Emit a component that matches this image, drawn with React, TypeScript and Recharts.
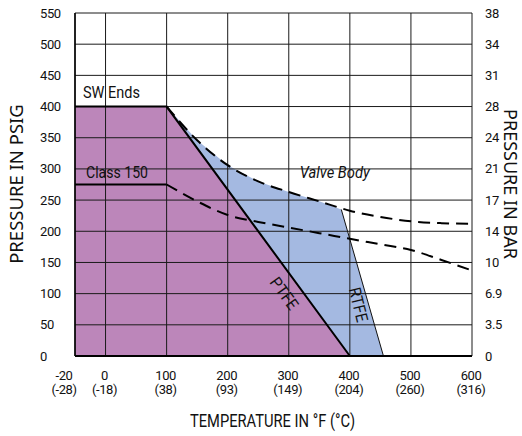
import React from "react";
import {
  ComposedChart,
  Area,
  Line,
  XAxis,
  YAxis,
  CartesianGrid,
  ReferenceDot,
} from "recharts";

// Temperature ticks (°F) and their Celsius labels
const tempTicksF = [-20, 0, 100, 200, 300, 400, 500, 600];
const tempTicksC = ["(-28)", "(-18)", "(38)", "(93)", "(149)", "(204)", "(260)", "(316)"];

// Pressure ticks (psig) and the matching bar labels on the right
const psiTicks = [0, 50, 100, 150, 200, 250, 300, 350, 400, 450, 500, 550];
const barLabels = ["0", "3.5", "6.9", "10", "14", "17", "21", "24", "28", "31", "34", "38"];

// PTFE seat rating (solid line + purple fill)
const ptfeTemp = [-20, 100, 400];
const ptfePsi = [400, 400, 0];

// RTFE seat rating (blue fill)
const rtfeTemp = [100, 150, 200, 250, 300, 350, 386, 455];
const rtfePsi = [400, 346, 306, 280, 263, 248, 235, 0];

// SW ends valve body rating (dashed)
const swTemp = [100, 150, 200, 250, 300, 350, 400, 450, 500, 550, 600];
const swPsi = [400, 346, 306, 280, 263, 248, 233, 223, 216, 213, 212];

// Class 150 valve body rating
const c150FlatTemp = [-20, 100];
const c150FlatPsi = [275, 275];
const c150Temp = [100, 150, 200, 250, 300, 350, 400, 450, 500, 550, 600];
const c150Psi = [275, 248, 226, 215, 206, 197, 188, 179, 170, 154, 137];

// the chart squeezes -20..0 °F into half a grid column
const xPos = (f: number) => (f < 0 ? f * 2.5 : f);

const toPoints = (t: number[], p: number[]) =>
  t.map((f, i) => ({ x: xPos(f), psi: p[i] }));

const ptfeData = toPoints(ptfeTemp, ptfePsi);
const rtfeData = toPoints(rtfeTemp, rtfePsi);
const rtfeEdge = rtfeData.slice(-2);
const swData = toPoints(swTemp, swPsi);
const c150Flat = toPoints(c150FlatTemp, c150FlatPsi);
const c150Data = toPoints(c150Temp, c150Psi);

const NARROW = "Roboto, 'Liberation Sans', sans-serif";
const TITLE = "'Noto Sans', 'Open Sans', sans-serif";

const PsiTick = (props: any) => (
  <text x={props.x - 33} y={props.y} dy={4.5} textAnchor="start" fontSize={13} letterSpacing={-0.4} fontFamily={NARROW} fill="#111">
    {props.payload.value}
  </text>
);

const BarTick = (props: any) => (
  <text x={props.x + 11} y={props.y} dy={4.5} textAnchor="start" fontSize={13} letterSpacing={-0.4} fontFamily={NARROW} fill="#111">
    {barLabels[psiTicks.indexOf(props.payload.value)]}
  </text>
);

const TempTick = (props: any) => {
  const i = props.index;
  // the -20 label sits a little left of the frame
  const x = props.x + (i === 0 ? -11 : -1);
  return (
    <text x={x} y={props.y} textAnchor="middle" fontSize={13} letterSpacing={-0.4} fontFamily={NARROW} fill="#111">
      <tspan x={x} dy={22}>{tempTicksF[i]}</tspan>
      <tspan x={x} dy={14}>{tempTicksC[i]}</tspan>
    </text>
  );
};

type NoteOpts = { anchor?: string; angle?: number; italic?: boolean; dx?: number; dy?: number; len?: number };

const note = (text: string, opts: NoteOpts = {}) => (p: any) => {
  const x = p.cx + (opts.dx || 0);
  const y = p.cy + (opts.dy || 0);
  return (
    <text
      x={x}
      y={y}
      textAnchor={opts.anchor || "start"}
      fontSize={16.5}
      fontFamily={NARROW}
      fontStyle={opts.italic ? "italic" : "normal"}
      fill="#111"
      textLength={opts.len}
      lengthAdjust="spacingAndGlyphs"
      transform={opts.angle ? `rotate(${opts.angle} ${x} ${y})` : undefined}
    >
      {text}
    </text>
  );
};

export default function App() {
  return (
    <div style={{ position: "absolute", left: 0, top: 0 }}>
      <ComposedChart width={522} height={436} margin={{ top: 13, right: 0, bottom: 0, left: 0 }}>
        <Area
          data={rtfeData}
          dataKey="psi"
          yAxisId="psi"
          type="linear"
          fill="#A4B9E1"
          fillOpacity={1}
          stroke="none"
          isAnimationActive={false}
        />
        <Area
          data={ptfeData}
          dataKey="psi"
          yAxisId="psi"
          type="linear"
          fill="#BC86BA"
          fillOpacity={1}
          stroke="none"
          isAnimationActive={false}
        />
        <CartesianGrid yAxisId="psi" stroke="#1a1a1a" strokeWidth={1} zIndex={150} />
        <Line data={rtfeEdge} dataKey="psi" yAxisId="psi" type="linear" stroke="#111" strokeWidth={1} dot={false} isAnimationActive={false} />
        <Line data={ptfeData} dataKey="psi" yAxisId="psi" type="linear" stroke="#000" strokeWidth={2} dot={false} isAnimationActive={false} />
        <Line data={swData} dataKey="psi" yAxisId="psi" type="monotone" stroke="#000" strokeWidth={2} strokeDasharray="12 7" dot={false} isAnimationActive={false} />
        <Line data={c150Flat} dataKey="psi" yAxisId="psi" type="linear" stroke="#000" strokeWidth={2} dot={false} isAnimationActive={false} />
        <Line data={c150Data} dataKey="psi" yAxisId="psi" type="monotone" stroke="#000" strokeWidth={2} strokeDasharray="12 7" dot={false} isAnimationActive={false} />
        {/* same rating read in bar: keeps the right-hand axis alive */}
        <Line data={swData} dataKey="psi" yAxisId="bar" stroke="none" dot={false} legendType="none" isAnimationActive={false} />

        <XAxis
          dataKey="x"
          type="number"
          domain={[xPos(-20), 600]}
          ticks={tempTicksF.map(xPos)}
          interval={0}
          height={80}
          tickSize={0}
          tickLine={false}
          axisLine={{ stroke: "#000", strokeWidth: 2 }}
          tick={<TempTick />}
          allowDuplicatedCategory={false}
          label={{
            content: () => (
              <text x={272.5} y={427} textAnchor="middle" fontSize={18} fontFamily={NARROW} fill="#111" textLength={165} lengthAdjust="spacingAndGlyphs">
                TEMPERATURE IN °F (°C)
              </text>
            ),
          }}
        />
        <YAxis
          yAxisId="psi"
          orientation="left"
          type="number"
          domain={[0, 550]}
          ticks={psiTicks}
          interval={0}
          width={75}
          tickSize={0}
          tickLine={false}
          axisLine={{ stroke: "#000", strokeWidth: 1.5 }}
          tick={<PsiTick />}
          label={{
            content: () => (
              <text x={23} y={184} transform="rotate(-90 23 184)" textAnchor="middle" fontSize={18.5} fontFamily={TITLE} fill="#111">
                PRESSURE IN PSIG
              </text>
            ),
          }}
        />
        <YAxis
          yAxisId="bar"
          orientation="right"
          type="number"
          domain={[0, 550]}
          ticks={psiTicks}
          interval={0}
          width={50}
          tickSize={0}
          tickLine={false}
          axisLine={false}
          tick={<BarTick />}
          label={{
            content: () => (
              <text x={504} y={184} transform="rotate(90 504 184)" textAnchor="middle" fontSize={18} fontFamily={TITLE} fill="#111">
                PRESSURE IN BAR
              </text>
            ),
          }}
        />

        <ReferenceDot yAxisId="psi" x={xPos(-20)} y={400} r={0} shape={note("SW Ends", { dx: 8, dy: -9, len: 57 })} />
        <ReferenceDot yAxisId="psi" x={xPos(-20)} y={275} r={0} shape={note("Class 150", { dx: 11, dy: -7, len: 62 })} />
        <ReferenceDot yAxisId="psi" x={300} y={290} r={0} shape={note("Valve Body", { italic: true, dx: 11, dy: 3, len: 70 })} />
        <ReferenceDot yAxisId="psi" x={290} y={95} r={0} shape={note("PTFE", { anchor: "middle", angle: 54, dx: -3, len: 36 })} />
        <ReferenceDot yAxisId="psi" x={410} y={80} r={0} shape={note("RTFE", { anchor: "middle", angle: 76, dx: -3, len: 35 })} />
      </ComposedChart>
    </div>
  );
}
